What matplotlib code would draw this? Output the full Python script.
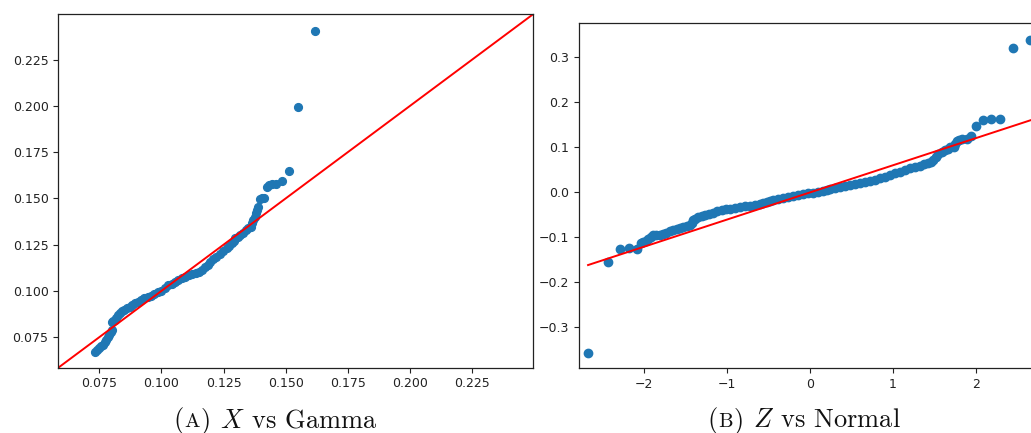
import matplotlib
matplotlib.use("Agg")
import matplotlib.pyplot as plt
import numpy as np

# ---- data ----

# (a) X vs Gamma: theoretical gamma quantiles vs sorted sample
gamma_quantiles = [
    0.0732, 0.0742, 0.0750, 0.0757, 0.0764, 0.0771, 0.0778, 0.0784, 0.0789, 0.0796,
    0.0803, 0.0800, 0.0806, 0.0812, 0.0819, 0.0826, 0.0833, 0.0840, 0.0850, 0.0861,
    0.0872, 0.0883, 0.0894, 0.0905, 0.0916, 0.0930, 0.0944, 0.0958, 0.0972, 0.0986,
    0.1000, 0.1014, 0.1027, 0.1041, 0.1055, 0.1068, 0.1082, 0.1096, 0.1110, 0.1124,
    0.1138, 0.1152, 0.1165, 0.1176, 0.1186, 0.1196, 0.1207, 0.1221, 0.1235, 0.1248,
    0.1262, 0.1272, 0.1283, 0.1290, 0.1297, 0.1308, 0.1318, 0.1329, 0.1339, 0.1349,
    0.1359, 0.1365, 0.1370, 0.1375, 0.1380, 0.1385, 0.1390, 0.1397, 0.1405, 0.1412,
    0.1426, 0.1434, 0.1443, 0.1461, 0.1484, 0.1512, 0.1551, 0.1616,
]
x_sample = [
    0.0670, 0.0680, 0.0691, 0.0700, 0.0709, 0.0722, 0.0736, 0.0750, 0.0763, 0.0776,
    0.0790, 0.0830, 0.0835, 0.0845, 0.0853, 0.0868, 0.0879, 0.0890, 0.0897, 0.0905,
    0.0913, 0.0922, 0.0932, 0.0942, 0.0950, 0.0960, 0.0968, 0.0975, 0.0983, 0.0992,
    0.1002, 0.1015, 0.1030, 0.1040, 0.1050, 0.1059, 0.1068, 0.1077, 0.1086, 0.1090,
    0.1096, 0.1104, 0.1113, 0.1127, 0.1140, 0.1155, 0.1170, 0.1185, 0.1200, 0.1215,
    0.1230, 0.1243, 0.1257, 0.1270, 0.1284, 0.1293, 0.1302, 0.1315, 0.1330, 0.1338,
    0.1347, 0.1365, 0.1383, 0.1400, 0.1419, 0.1437, 0.1455, 0.1498, 0.1500, 0.1504,
    0.1559, 0.1570, 0.1579, 0.1577, 0.1593, 0.1646, 0.1996, 0.2403,
]
gamma_lims = (0.0585, 0.2495)
gamma_ticks = [0.075, 0.100, 0.125, 0.150, 0.175, 0.200, 0.225]

# (b) Z vs Normal: theoretical normal quantiles vs sorted sample
normal_quantiles = [
    -2.671, -2.430, -2.285, -2.177, -2.076, -2.030, -2.008, -1.975, -1.948, -1.915,
    -1.888, -1.850, -1.807, -1.767, -1.727, -1.690, -1.647, -1.606, -1.566, -1.526,
    -1.486, -1.450, -1.426, -1.406, -1.380, -1.345, -1.305, -1.265, -1.215, -1.165,
    -1.115, -1.064, -1.014, -0.964, -0.904, -0.843, -0.783, -0.723, -0.663, -0.602,
    -0.562, -0.522, -0.482, -0.442, -0.381, -0.321, -0.261, -0.201, -0.140, -0.080,
    -0.020, 0.040, 0.100, 0.161, 0.200, 0.241, 0.301, 0.361, 0.421, 0.482,
    0.542, 0.602, 0.662, 0.723, 0.783, 0.843, 0.904, 0.964, 1.024, 1.084,
    1.144, 1.205, 1.265, 1.325, 1.376, 1.426, 1.456, 1.486, 1.516, 1.546,
    1.586, 1.627, 1.657, 1.687, 1.727, 1.747, 1.767, 1.797, 1.827, 1.888,
    1.940, 2.000, 2.080, 2.177, 2.289, 2.438, 2.651,
]
z_sample = [
    -0.357, -0.156, -0.126, -0.125, -0.1256, -0.113, -0.110, -0.108, -0.105, -0.099,
    -0.0953, -0.0955, -0.0953, -0.093, -0.090, -0.087, -0.0843, -0.082, -0.080, -0.078,
    -0.0754, -0.073, -0.0695, -0.062, -0.059, -0.0562, -0.054, -0.051, -0.048, -0.0458,
    -0.043, -0.0406, -0.0388, -0.037, -0.035, -0.0333, -0.0318, -0.0303, -0.0285, -0.0266,
    -0.024, -0.0214, -0.0195, -0.0177, -0.016, -0.014, -0.0118, -0.0096, -0.0074, -0.0052,
    -0.0034, -0.0015, 0.0003, 0.0022, 0.005, 0.0074, 0.0088, 0.0103, 0.0125, 0.0148,
    0.017, 0.0192, 0.0214, 0.0237, 0.027, 0.0303, 0.034, 0.0377, 0.0414, 0.0451,
    0.0488, 0.0525, 0.0555, 0.0584, 0.061, 0.0636, 0.067, 0.071, 0.078, 0.0843,
    0.089, 0.0931, 0.096, 0.099, 0.1005, 0.107, 0.113, 0.115, 0.1168, 0.1183,
    0.1249, 0.1463, 0.1589, 0.1611, 0.1611, 0.3193, 0.337,
]
normal_fit_slope = 0.0603
normal_fit_intercept = -0.001
normal_xlim = (-2.78, 2.78)
normal_ylim = (-0.391, 0.374)

captions = [
    ("A", r" $X$ vs Gamma", 274.0),
    ("B", r" $Z$ vs Normal", 802.5),
]

# ---- figure ----

plt.rcParams["mathtext.fontset"] = "cm"
W, H = 1031, 433
fig = plt.figure(figsize=(W / 100, H / 100), dpi=100)

ax1 = fig.add_axes([58.3 / W, 1 - 367.7 / H, (533 - 58.3) / W, (367.7 - 14.3) / H])
ax2 = fig.add_axes([579 / W, 1 - 368.3 / H, (1041 - 579) / W, (368.3 - 23.3) / H])

ax1.plot(gamma_quantiles, x_sample, "o", color="#1f77b4", markersize=5.6)
ax1.plot(gamma_lims, gamma_lims, color="r", linewidth=1.4)
ax1.set_xlim(gamma_lims)
ax1.set_ylim(gamma_lims)
ax1.set_xticks(gamma_ticks)
ax1.set_yticks(gamma_ticks)
ax1.set_xticklabels([f"{t:.3f}" for t in gamma_ticks])
ax1.set_yticklabels([f"{t:.3f}" for t in gamma_ticks])

qx = np.array([min(normal_quantiles), max(normal_quantiles) + 0.2])
ax2.plot(normal_quantiles, z_sample, "o", color="#1f77b4", markersize=6.0)
ax2.plot(qx, normal_fit_intercept + normal_fit_slope * qx, color="r", linewidth=1.4)
ax2.set_xlim(normal_xlim)
ax2.set_ylim(normal_ylim)
ax2.set_xticks([-2, -1, 0, 1, 2])
ax2.set_yticks([-0.3, -0.2, -0.1, 0.0, 0.1, 0.2, 0.3])

for ax in (ax1, ax2):
    ax.tick_params(labelsize=9, length=3.5, width=0.8, colors="#222222")
    for sp in ax.spines.values():
        sp.set_linewidth(0.9)
        sp.set_color("#222222")

# captions: "(" small-caps letter ")" then the rest, centred under each panel
renderer = fig.canvas.get_renderer()
for letter, rest, cx in captions:
    parts = [("(", 19), (letter, 14.8), (")", 19), (rest, 19)]
    texts = []
    for s, size in parts:
        t = fig.text(0, 6 / H, s, fontsize=size, family="cmr10", va="baseline",
                     color="#111111")
        texts.append(t)
    widths = [t.get_window_extent(renderer).width for t in texts]
    x = cx - sum(widths) / 2 + 0.0
    for t, w in zip(texts, widths):
        t.set_x(x / W)
        x += w + 1.0

fig.savefig("out.png", dpi=100)
